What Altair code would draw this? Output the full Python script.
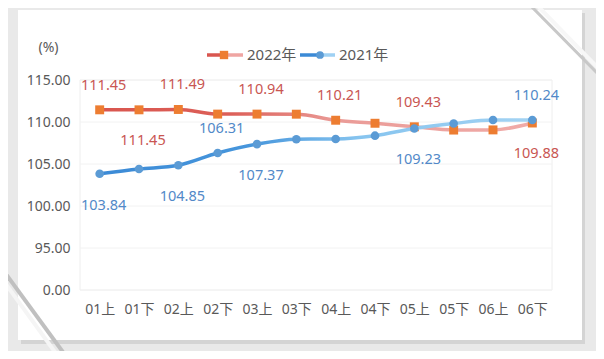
import altair as alt
import pandas as pd

categories = ["01上", "01下", "02上", "02下", "03上", "03下", "04上", "04下", "05上", "05下", "06上", "06下"]
values_2022 = [111.45, 111.45, 111.49, 110.94, 110.94, 110.93, 110.21, 109.85, 109.43, 109.04, 109.06, 109.88]
values_2021 = [103.84, 104.40, 104.85, 106.31, 107.37, 107.95, 107.98, 108.37, 109.23, 109.82, 110.24, 110.24]
labels_2022 = ["above", "below", "above", "", "above", "", "above", "", "above", "", "", "below"]
labels_2021 = ["below", "", "below", "above", "below", "", "", "", "below", "", "", "above"]
series_names = ["2022年", "2021年"]
y_tick_values = [90, 95, 100, 105, 110, 115]   # 90 is shown as the broken-axis "0.00"

rows = []
for i, c in enumerate(categories):
    rows.append({"cat": c, "series": series_names[0], "value": values_2022[i], "place": labels_2022[i]})
    rows.append({"cat": c, "series": series_names[1], "value": values_2021[i], "place": labels_2021[i]})
df = pd.DataFrame(rows)
ticks_df = pd.DataFrame({"value": y_tick_values})
one = pd.DataFrame({"k": [0]})

FONT = "'Noto Sans', 'Noto Sans CJK SC', sans-serif"
GREY = "#595959"

x_enc = alt.X("cat:N", sort=categories, scale=alt.Scale(type="point", padding=0.5),
              axis=alt.Axis(title=None, labelAngle=0, ticks=False, domain=False, grid=False,
                            labelPadding=12, labelFontSize=14, labelColor=GREY, labelFont=FONT, zindex=1))
y_scale = alt.Scale(domain=[90, 115], zero=False, nice=False)
y_enc = alt.Y("value:Q", scale=y_scale,
              axis=alt.Axis(values=y_tick_values,
                            labelExpr="datum.value == 90 ? '0.00' : format(datum.value, '.2f')",
                            grid=False, domain=False, ticks=False,
                            labelPadding=10, labelFontSize=14, labelColor=GREY, labelFont=FONT,
                            title="(%)", titleAngle=0, titleX=-32, titleY=-33, titleAlign="center",
                            titleBaseline="middle", titleFontWeight="normal", titleFontSize=14,
                            titleColor=GREY, titleFont=FONT, zindex=1))

base = alt.Chart(df).encode(x=x_enc, y=y_enc)

# card decoration
shadow = alt.Chart(one).mark_rect(color="#d4d4d4").encode(
    x=alt.value(-59), x2=alt.value(505), y=alt.value(-67), y2=alt.value(264))
card = alt.Chart(one).mark_rect(color="#ffffff").encode(
    x=alt.value(-62), x2=alt.value(502), y=alt.value(-70), y2=alt.value(260))
fold1 = alt.Chart(one).mark_rule(color="#c8c8c8", strokeWidth=3).encode(
    x=alt.value(445), x2=alt.value(524), y=alt.value(-80), y2=alt.value(0))
fold1b = alt.Chart(one).mark_rule(color="#f7f7f7", strokeWidth=4).encode(
    x=alt.value(450), x2=alt.value(524), y=alt.value(-82), y2=alt.value(-6))
fold2 = alt.Chart(one).mark_rule(color="#c0c0c0", strokeWidth=4).encode(
    x=alt.value(-80), x2=alt.value(-12), y=alt.value(186), y2=alt.value(279))
fold2b = alt.Chart(one).mark_rule(color="#f5f5f5", strokeWidth=4).encode(
    x=alt.value(-80), x2=alt.value(-20), y=alt.value(196), y2=alt.value(279))
frame = alt.Chart(one).mark_rect(fillOpacity=0, stroke="#eeeeee", strokeWidth=1).encode(
    x=alt.value(0), x2=alt.value("width"), y=alt.value(0), y2=alt.value("height"))
grid = alt.Chart(ticks_df).mark_rule(color="#f2f2f2", strokeWidth=1).encode(
    y=alt.Y("value:Q", scale=y_scale))

grad_2022 = alt.Gradient(gradient="linear", x1=0, y1=0, x2=1, y2=0, stops=[
    alt.GradientStop(color="#D9564F", offset=0),
    alt.GradientStop(color="#DC5F58", offset=0.3),
    alt.GradientStop(color="#EA9B97", offset=0.55),
    alt.GradientStop(color="#F0ABA8", offset=1)])
grad_2021 = alt.Gradient(gradient="linear", x1=0, y1=0, x2=1, y2=0, stops=[
    alt.GradientStop(color="#3B8AD6", offset=0),
    alt.GradientStop(color="#4796DC", offset=0.35),
    alt.GradientStop(color="#86C4EF", offset=0.6),
    alt.GradientStop(color="#A3D3F3", offset=1)])

s22 = base.transform_filter(alt.datum.series == series_names[0])
s21 = base.transform_filter(alt.datum.series == series_names[1])

line22 = s22.mark_line(color=grad_2022, strokeWidth=3.5, interpolate="monotone")
pts22 = s22.mark_point(shape="square", filled=True, color="#ED7D31", size=80, opacity=1)
line21 = s21.mark_line(color=grad_2021, strokeWidth=3.5, interpolate="monotone")
pts21 = s21.mark_point(shape="circle", filled=True, color="#5B9BD5", size=75, opacity=1)

RED_TXT = "#C95652"
BLUE_TXT = "#5289C8"


def labels(series, place, color, dy):
    return base.transform_filter(
        (alt.datum.series == series) & (alt.datum.place == place)
    ).mark_text(dy=dy, dx=4, color=color, fontSize=14.5, font=FONT).encode(
        text=alt.Text("value:Q", format=".2f"))


t22a = labels(series_names[0], "above", RED_TXT, -24)
t22b = labels(series_names[0], "below", RED_TXT, 31)
t21a = labels(series_names[1], "above", BLUE_TXT, -24)
t21b = labels(series_names[1], "below", BLUE_TXT, 32)

# manual legend
leg22 = pd.DataFrame({"name": [series_names[0]]})
leg21 = pd.DataFrame({"name": [series_names[1]]})
lg = [
    alt.Chart(leg22).mark_rule(color="#D9564F", strokeWidth=3.5).encode(
        x=alt.value(127), x2=alt.value(145), y=alt.value(-25)),
    alt.Chart(leg22).mark_rule(color="#EFA5A2", strokeWidth=3.5).encode(
        x=alt.value(145), x2=alt.value(163), y=alt.value(-25)),
    alt.Chart(leg22).mark_point(shape="square", filled=True, color="#ED7D31", size=70, opacity=1).encode(
        x=alt.value(144), y=alt.value(-25)),
    alt.Chart(leg22).mark_text(align="left", baseline="middle", fontSize=15, color=GREY, font=FONT).encode(
        x=alt.value(167), y=alt.value(-25), text="name:N"),
    alt.Chart(leg21).mark_rule(color="#3B8AD6", strokeWidth=3.5).encode(
        x=alt.value(220), x2=alt.value(238), y=alt.value(-25)),
    alt.Chart(leg21).mark_rule(color="#9FD1F3", strokeWidth=3.5).encode(
        x=alt.value(238), x2=alt.value(255), y=alt.value(-25)),
    alt.Chart(leg21).mark_point(shape="circle", filled=True, color="#5B9BD5", size=60, opacity=1).encode(
        x=alt.value(240), y=alt.value(-25)),
    alt.Chart(leg21).mark_text(align="left", baseline="middle", fontSize=15, color=GREY, font=FONT).encode(
        x=alt.value(259), y=alt.value(-25), text="name:N"),
]

chart = alt.layer(
    shadow, card, fold1, fold1b, fold2, fold2b, frame, grid,
    line22, pts22, line21, pts21, t22a, t22b, t21a, t21b, *lg
).properties(
    width=472, height=210,
    padding={"left": 72, "top": 72, "right": 44, "bottom": 61},
    autosize="none",
    background="#e9e9e9",
).configure_view(stroke=None)

chart.save("out.html", embed_options={"renderer": "svg", "actions": False})
